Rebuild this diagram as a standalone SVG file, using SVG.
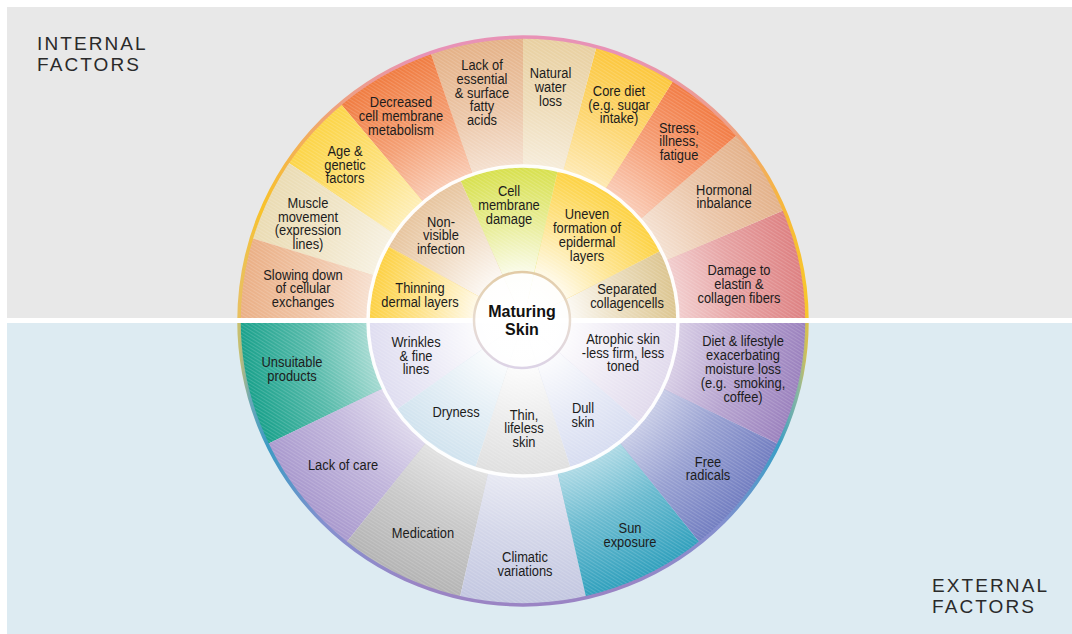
<svg xmlns="http://www.w3.org/2000/svg" xmlns:xlink="http://www.w3.org/1999/xlink" width="1072" height="634" viewBox="0 0 1072 634">
<style>
.lbl{font-family:"Liberation Sans",Arial,sans-serif;font-size:15px;fill:#1c1c1c;text-anchor:middle}
.ttl{font-family:"Liberation Sans",Arial,sans-serif;font-size:19px;fill:#2a2a2a;letter-spacing:2.1px}
.ctr{font-family:"Liberation Sans",Arial,sans-serif;font-size:16px;font-weight:bold;fill:#111;text-anchor:middle}
.fo{fill:url(#fadeOuter)}
.fm{fill:url(#fadeMid)}
.ht{fill:url(#hatch)}
</style>
<defs>
<radialGradient id="fadeOuter" gradientUnits="userSpaceOnUse" cx="523" cy="321" r="284">
<stop offset="0.54" stop-color="#fff" stop-opacity="0.62"/>
<stop offset="0.75" stop-color="#fff" stop-opacity="0.28"/>
<stop offset="1" stop-color="#fff" stop-opacity="0"/>
</radialGradient>
<radialGradient id="fadeMid" gradientUnits="userSpaceOnUse" cx="523" cy="321" r="155">
<stop offset="0" stop-color="#fff" stop-opacity="1"/>
<stop offset="0.3" stop-color="#fff" stop-opacity="0.9"/>
<stop offset="0.65" stop-color="#fff" stop-opacity="0.42"/>
<stop offset="1" stop-color="#fff" stop-opacity="0.02"/>
</radialGradient>
<linearGradient id="rimTop" gradientUnits="userSpaceOnUse" x1="239" y1="0" x2="807" y2="0">
<stop offset="0" stop-color="#e9c060"/>
<stop offset="0.04" stop-color="#f8c22a"/>
<stop offset="0.16" stop-color="#efa27a"/>
<stop offset="0.32" stop-color="#e892b6"/>
<stop offset="0.68" stop-color="#e892b6"/>
<stop offset="0.86" stop-color="#eda08a"/>
<stop offset="0.96" stop-color="#f7b83a"/>
<stop offset="1" stop-color="#f8c62c"/>
</linearGradient>
<linearGradient id="rimBot" gradientUnits="userSpaceOnUse" x1="239" y1="0" x2="807" y2="0">
<stop offset="0" stop-color="#c8c070"/>
<stop offset="0.02" stop-color="#6aa8b8"/>
<stop offset="0.05" stop-color="#3d9bc4"/>
<stop offset="0.15" stop-color="#8590cf"/>
<stop offset="0.32" stop-color="#9a84c4"/>
<stop offset="0.68" stop-color="#9a84c4"/>
<stop offset="0.85" stop-color="#8590cf"/>
<stop offset="0.95" stop-color="#3a9ec6"/>
<stop offset="0.985" stop-color="#8ab7a0"/>
<stop offset="1" stop-color="#d8c050"/>
</linearGradient>
<linearGradient id="ctrStroke" x1="0" y1="0" x2="0" y2="1">
<stop offset="0" stop-color="#e2cba6"/>
<stop offset="0.5" stop-color="#e8dcd0"/>
<stop offset="1" stop-color="#dcd3e6"/>
</linearGradient>
<radialGradient id="ctrFill" cx="0.5" cy="0.5" r="0.5">
<stop offset="0" stop-color="#fff" stop-opacity="1"/>
<stop offset="1" stop-color="#fff" stop-opacity="0.8"/>
</radialGradient>
<pattern id="hatch" width="3" height="3" patternUnits="userSpaceOnUse" patternTransform="rotate(32)">
<rect width="3" height="1.1" fill="#fff" fill-opacity="0.16"/>
</pattern>
<path id="o1" d="M807,321 A284,284 0 0 0 784.4,210 L665.7,260.4 A155,155 0 0 1 678,321 Z"/>
<path id="o2" d="M784.4,210 A284,284 0 0 0 737.3,134.7 L640,219.3 A155,155 0 0 1 665.7,260.4 Z"/>
<path id="o3" d="M737.3,134.7 A284,284 0 0 0 673.5,80.2 L605.1,189.6 A155,155 0 0 1 640,219.3 Z"/>
<path id="o4" d="M673.5,80.2 A284,284 0 0 0 596.5,46.7 L563.1,171.3 A155,155 0 0 1 605.1,189.6 Z"/>
<path id="o5" d="M596.5,46.7 A284,284 0 0 0 523,37 L523,166 A155,155 0 0 1 563.1,171.3 Z"/>
<path id="o6" d="M523,37 A284,284 0 0 0 430.5,52.5 L472.5,174.4 A155,155 0 0 1 523,166 Z"/>
<path id="o7" d="M430.5,52.5 A284,284 0 0 0 340.4,103.5 L423.4,202.3 A155,155 0 0 1 472.5,174.4 Z"/>
<path id="o8" d="M340.4,103.5 A284,284 0 0 0 287.6,162.2 L394.5,234.3 A155,155 0 0 1 423.4,202.3 Z"/>
<path id="o9" d="M287.6,162.2 A284,284 0 0 0 251.4,238 L374.8,275.7 A155,155 0 0 1 394.5,234.3 Z"/>
<path id="o10" d="M251.4,238 A284,284 0 0 0 239,321 L368,321 A155,155 0 0 1 374.8,275.7 Z"/>
<path id="b1" d="M239,321 A284,284 0 0 0 267.1,444.2 L383.3,388.3 A155,155 0 0 1 368,321 Z"/>
<path id="b2" d="M267.1,444.2 A284,284 0 0 0 345.9,543 L426.4,442.2 A155,155 0 0 1 383.3,388.3 Z"/>
<path id="b3" d="M345.9,543 A284,284 0 0 0 459.8,597.9 L488.5,472.1 A155,155 0 0 1 426.4,442.2 Z"/>
<path id="b4" d="M459.8,597.9 A284,284 0 0 0 586.2,597.9 L557.5,472.1 A155,155 0 0 1 488.5,472.1 Z"/>
<path id="b5" d="M586.2,597.9 A284,284 0 0 0 700.1,543 L619.6,442.2 A155,155 0 0 1 557.5,472.1 Z"/>
<path id="b6" d="M700.1,543 A284,284 0 0 0 778.9,444.2 L662.7,388.3 A155,155 0 0 1 619.6,442.2 Z"/>
<path id="b7" d="M778.9,444.2 A284,284 0 0 0 807,321 L678,321 A155,155 0 0 1 662.7,388.3 Z"/>
<path id="m1" d="M523,321 L678,321 A155,155 0 0 0 661.1,250.6 Z"/>
<path id="m2" d="M523,321 L661.1,250.6 A155,155 0 0 0 557.9,170 Z"/>
<path id="m3" d="M523,321 L557.9,170 A155,155 0 0 0 460,179.4 Z"/>
<path id="m4" d="M523,321 L460,179.4 A155,155 0 0 0 387.4,245.9 Z"/>
<path id="m5" d="M523,321 L387.4,245.9 A155,155 0 0 0 368,321 Z"/>
<path id="n1" d="M523,321 L368,321 A155,155 0 0 0 396,409.9 Z"/>
<path id="n2" d="M523,321 L396,409.9 A155,155 0 0 0 475.1,468.4 Z"/>
<path id="n3" d="M523,321 L475.1,468.4 A155,155 0 0 0 570.9,468.4 Z"/>
<path id="n4" d="M523,321 L570.9,468.4 A155,155 0 0 0 640,422.7 Z"/>
<path id="n5" d="M523,321 L640,422.7 A155,155 0 0 0 678,321 Z"/>
</defs>

<g id="background">
<rect x="7" y="7" width="1065" height="311" fill="#e8e8e8"/>
<rect x="7" y="323" width="1065" height="311" fill="#ddebf2"/>
<circle cx="523" cy="321" r="284" fill="#fff"/>
</g>

<g id="damage-elastin"><use xlink:href="#o1" fill="#dd7f80"/><use xlink:href="#o1" class="fo"/><use xlink:href="#o1" class="ht"/>
<text class="lbl" transform="translate(739,0) scale(.86,1)"><tspan x="0" y="275">Damage to</tspan><tspan x="0" y="289">elastin &amp;</tspan><tspan x="0" y="302.7">collagen fibers</tspan></text></g>
<g id="hormonal-inbalance"><use xlink:href="#o2" fill="#e3b088"/><use xlink:href="#o2" class="fo"/><use xlink:href="#o2" class="ht"/>
<text class="lbl" transform="translate(724,0) scale(.86,1)"><tspan x="0" y="195">Hormonal</tspan><tspan x="0" y="208.5">inbalance</tspan></text></g>
<g id="stress"><use xlink:href="#o3" fill="#f27a42"/><use xlink:href="#o3" class="fo"/><use xlink:href="#o3" class="ht"/>
<text class="lbl" transform="translate(679,0) scale(.86,1)"><tspan x="0" y="132.7">Stress,</tspan><tspan x="0" y="146.5">illness,</tspan><tspan x="0" y="160">fatigue</tspan></text></g>
<g id="core-diet"><use xlink:href="#o4" fill="#fcc63a"/><use xlink:href="#o4" class="fo"/><use xlink:href="#o4" class="ht"/>
<text class="lbl" transform="translate(619,0) scale(.86,1)"><tspan x="0" y="96">Core diet</tspan><tspan x="0" y="110">(e.g. sugar</tspan><tspan x="0" y="123.5">intake)</tspan></text></g>
<g id="natural-water-loss"><use xlink:href="#o5" fill="#e8cf9f"/><use xlink:href="#o5" class="fo"/><use xlink:href="#o5" class="ht"/>
<text class="lbl" transform="translate(550.5,0) scale(.86,1)"><tspan x="0" y="78.3">Natural</tspan><tspan x="0" y="92.3">water</tspan><tspan x="0" y="106">loss</tspan></text></g>
<g id="lack-fatty-acids"><use xlink:href="#o6" fill="#e4b085"/><use xlink:href="#o6" class="fo"/><use xlink:href="#o6" class="ht"/>
<text class="lbl" transform="translate(482,0) scale(.86,1)"><tspan x="0" y="70">Lack of</tspan><tspan x="0" y="84">essential</tspan><tspan x="0" y="97.7">&amp; surface</tspan><tspan x="0" y="111.5">fatty</tspan><tspan x="0" y="125">acids</tspan></text></g>
<g id="decreased-metabolism"><use xlink:href="#o7" fill="#f07a3e"/><use xlink:href="#o7" class="fo"/><use xlink:href="#o7" class="ht"/>
<text class="lbl" transform="translate(401,0) scale(.86,1)"><tspan x="0" y="107.3">Decreased</tspan><tspan x="0" y="121">cell membrane</tspan><tspan x="0" y="135">metabolism</tspan></text></g>
<g id="age-genetic"><use xlink:href="#o8" fill="#fcd445"/><use xlink:href="#o8" class="fo"/><use xlink:href="#o8" class="ht"/>
<text class="lbl" transform="translate(345,0) scale(.86,1)"><tspan x="0" y="156">Age &amp;</tspan><tspan x="0" y="169.7">genetic</tspan><tspan x="0" y="183.3">factors</tspan></text></g>
<g id="muscle-movement"><use xlink:href="#o9" fill="#eadbb2"/><use xlink:href="#o9" class="fo"/><use xlink:href="#o9" class="ht"/>
<text class="lbl" transform="translate(308,0) scale(.86,1)"><tspan x="0" y="208.3">Muscle</tspan><tspan x="0" y="222">movement</tspan><tspan x="0" y="235.5">(expression</tspan><tspan x="0" y="249">lines)</tspan></text></g>
<g id="slowing-down"><use xlink:href="#o10" fill="#eaae84"/><use xlink:href="#o10" class="fo"/><use xlink:href="#o10" class="ht"/>
<text class="lbl" transform="translate(303,0) scale(.86,1)"><tspan x="0" y="280">Slowing down</tspan><tspan x="0" y="293.5">of cellular</tspan><tspan x="0" y="307">exchanges</tspan></text></g>

<g id="unsuitable-products"><use xlink:href="#b1" fill="#17a08a"/><use xlink:href="#b1" class="fo"/><use xlink:href="#b1" class="ht"/>
<text class="lbl" transform="translate(292,0) scale(.86,1)"><tspan x="0" y="367.3">Unsuitable</tspan><tspan x="0" y="381.5">products</tspan></text></g>
<g id="lack-of-care"><use xlink:href="#b2" fill="#a898cd"/><use xlink:href="#b2" class="fo"/><use xlink:href="#b2" class="ht"/>
<text class="lbl" transform="translate(343,0) scale(.86,1)" x="0" y="470">Lack of care</text></g>
<g id="medication"><use xlink:href="#b3" fill="#b3b3b3"/><use xlink:href="#b3" class="fo"/><use xlink:href="#b3" class="ht"/>
<text class="lbl" transform="translate(423,0) scale(.86,1)" x="0" y="538.3">Medication</text></g>
<g id="climatic-variations"><use xlink:href="#b4" fill="#c2c6e0"/><use xlink:href="#b4" class="fo"/><use xlink:href="#b4" class="ht"/>
<text class="lbl" transform="translate(525,0) scale(.86,1)"><tspan x="0" y="562.5">Climatic</tspan><tspan x="0" y="576">variations</tspan></text></g>
<g id="sun-exposure"><use xlink:href="#b5" fill="#2e9fbc"/><use xlink:href="#b5" class="fo"/><use xlink:href="#b5" class="ht"/>
<text class="lbl" transform="translate(630,0) scale(.86,1)"><tspan x="0" y="533.3">Sun</tspan><tspan x="0" y="547">exposure</tspan></text></g>
<g id="free-radicals"><use xlink:href="#b6" fill="#707cc0"/><use xlink:href="#b6" class="fo"/><use xlink:href="#b6" class="ht"/>
<text class="lbl" transform="translate(708,0) scale(.86,1)"><tspan x="0" y="466.7">Free</tspan><tspan x="0" y="480.3">radicals</tspan></text></g>
<g id="diet-lifestyle"><use xlink:href="#b7" fill="#9a80bd"/><use xlink:href="#b7" class="fo"/><use xlink:href="#b7" class="ht"/>
<text class="lbl" transform="translate(743,0) scale(.86,1)"><tspan x="0" y="346">Diet &amp; lifestyle</tspan><tspan x="0" y="360">exacerbating</tspan><tspan x="0" y="374">moisture loss</tspan><tspan x="0" y="387.7">(e.g.&#160; smoking,</tspan><tspan x="0" y="401.7">coffee)</tspan></text></g>

<g id="separated-collagencells"><use xlink:href="#m1" fill="#dbc38c"/><use xlink:href="#m1" class="fm"/><use xlink:href="#m1" class="ht"/>
<text class="lbl" transform="translate(627,0) scale(.86,1)"><tspan x="0" y="294">Separated</tspan><tspan x="0" y="307.7">collagencells</tspan></text></g>
<g id="uneven-formation"><use xlink:href="#m2" fill="#fdd03a"/><use xlink:href="#m2" class="fm"/><use xlink:href="#m2" class="ht"/>
<text class="lbl" transform="translate(587,0) scale(.86,1)"><tspan x="0" y="219">Uneven</tspan><tspan x="0" y="233">formation of</tspan><tspan x="0" y="247">epidermal</tspan><tspan x="0" y="260.7">layers</tspan></text></g>
<g id="cell-membrane-damage"><use xlink:href="#m3" fill="#d6df46"/><use xlink:href="#m3" class="fm"/><use xlink:href="#m3" class="ht"/>
<text class="lbl" transform="translate(509,0) scale(.86,1)"><tspan x="0" y="196">Cell</tspan><tspan x="0" y="210">membrane</tspan><tspan x="0" y="224">damage</tspan></text></g>
<g id="non-visible-infection"><use xlink:href="#m4" fill="#e6c29a"/><use xlink:href="#m4" class="fm"/><use xlink:href="#m4" class="ht"/>
<text class="lbl" transform="translate(441,0) scale(.86,1)"><tspan x="0" y="226.7">Non-</tspan><tspan x="0" y="240.3">visible</tspan><tspan x="0" y="254">infection</tspan></text></g>
<g id="thinning-dermal-layers"><use xlink:href="#m5" fill="#fdcf3c"/><use xlink:href="#m5" class="fm"/><use xlink:href="#m5" class="ht"/>
<text class="lbl" transform="translate(420,0) scale(.86,1)"><tspan x="0" y="293.3">Thinning</tspan><tspan x="0" y="307.3">dermal layers</tspan></text></g>

<g id="wrinkles"><use xlink:href="#n1" fill="#dedcf0"/><use xlink:href="#n1" class="fm"/><use xlink:href="#n1" class="ht"/>
<text class="lbl" transform="translate(416,0) scale(.86,1)"><tspan x="0" y="347.3">Wrinkles</tspan><tspan x="0" y="361">&amp; fine</tspan><tspan x="0" y="374">lines</tspan></text></g>
<g id="dryness"><use xlink:href="#n2" fill="#cfe2ee"/><use xlink:href="#n2" class="fm"/><use xlink:href="#n2" class="ht"/>
<text class="lbl" transform="translate(456,0) scale(.86,1)" x="0" y="416.7">Dryness</text></g>
<g id="thin-lifeless-skin"><use xlink:href="#n3" fill="#dedede"/><use xlink:href="#n3" class="fm"/><use xlink:href="#n3" class="ht"/>
<text class="lbl" transform="translate(524,0) scale(.86,1)"><tspan x="0" y="420">Thin,</tspan><tspan x="0" y="433.3">lifeless</tspan><tspan x="0" y="446.7">skin</tspan></text></g>
<g id="dull-skin"><use xlink:href="#n4" fill="#d5dbf0"/><use xlink:href="#n4" class="fm"/><use xlink:href="#n4" class="ht"/>
<text class="lbl" transform="translate(583,0) scale(.86,1)"><tspan x="0" y="413.3">Dull</tspan><tspan x="0" y="426.7">skin</tspan></text></g>
<g id="atrophic-skin"><use xlink:href="#n5" fill="#e0d9ec"/><use xlink:href="#n5" class="fm"/><use xlink:href="#n5" class="ht"/>
<text class="lbl" transform="translate(623,0) scale(.86,1)"><tspan x="0" y="344.3">Atrophic skin</tspan><tspan x="0" y="357.7">-less firm, less</tspan><tspan x="0" y="371">toned</tspan></text></g>

<g id="wheel-frame" fill="none">
<circle cx="523" cy="321" r="155" stroke="#fff" stroke-width="3.5" stroke-opacity="0.95"/>
<path d="M239,321 A284,284 0 0 1 807,321" stroke="url(#rimTop)" stroke-width="3.5"/>
<path d="M239,321 A284,284 0 0 0 807,321" stroke="url(#rimBot)" stroke-width="3.5"/>
</g>

<rect id="divider" x="0" y="318" width="1072" height="5" fill="#fff"/>

<g id="connectors"/>

<g id="maturing-skin">
<circle cx="522" cy="320" r="48" fill="url(#ctrFill)" stroke="url(#ctrStroke)" stroke-width="2.5"/>
<text class="ctr"><tspan x="522" y="316.5">Maturing</tspan><tspan x="522" y="335">Skin</tspan></text>
</g>

<g id="titles">
<text class="ttl"><tspan x="37" y="50">INTERNAL</tspan><tspan x="37" y="71">FACTORS</tspan></text>
<text class="ttl"><tspan x="932" y="592">EXTERNAL</tspan><tspan x="932" y="613">FACTORS</tspan></text>
</g>
</svg>
